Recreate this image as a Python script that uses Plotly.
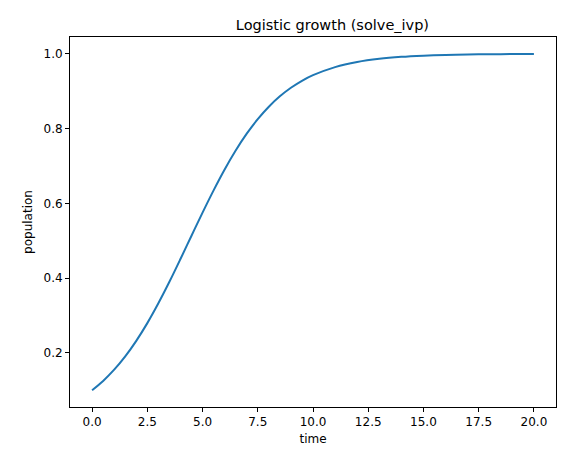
import plotly.graph_objects as go

time = [0,0.5,1,1.5,2,2.5,3,3.5,4,4.5,5,5.5,6,6.5,7,7.5,8,8.5,9,9.5,10,11,12,13,14,15,16,17,18,19,20]
population = [0.1,0.1248,0.1548,0.1904,0.232,0.2794,0.3325,0.39,0.4509,0.5132,0.5751,0.6347,0.6906,0.7413,0.7863,0.8253,0.8585,0.8862,0.9091,0.9278,0.9428,0.9645,0.9782,0.9867,0.9919,0.995,0.997,0.9982,0.9989,0.9993,0.9996]

fig = go.Figure(go.Scatter(x=time, y=population, mode="lines", line=dict(color="#1f77b4", width=2), line_shape="spline"))
ax = dict(showgrid=False, zeroline=False, showline=True, linecolor="black", linewidth=1, mirror=True,
          ticks="outside", ticklen=4, tickcolor="black", tickfont=dict(size=12, color="black"), automargin=False)
fig.update_layout(
    width=567, height=454, plot_bgcolor="white", paper_bgcolor="white",
    font=dict(family="DejaVu Sans", color="black"),
    margin=dict(l=62, r=19, t=29, b=55),
    title=dict(text="Logistic growth (solve_ivp)", x=0.54, xref="paper", xanchor="center", y=0.975, yanchor="top", font=dict(size=14.5)),
    xaxis=dict(**ax, range=[-1, 21], tickvals=[0,2.5,5,7.5,10,12.5,15,17.5,20],
               ticktext=["0.0","2.5","5.0","7.5","10.0","12.5","15.0","17.5","20.0"],
               title=dict(text="time", font=dict(size=12), standoff=6)),
    yaxis=dict(**ax, range=[0.055, 1.045], tickvals=[0.2,0.4,0.6,0.8,1.0], tickformat=".1f",
               title=dict(text="population", font=dict(size=12), standoff=8)),
    showlegend=False,
)
fig.write_html("out.html")
